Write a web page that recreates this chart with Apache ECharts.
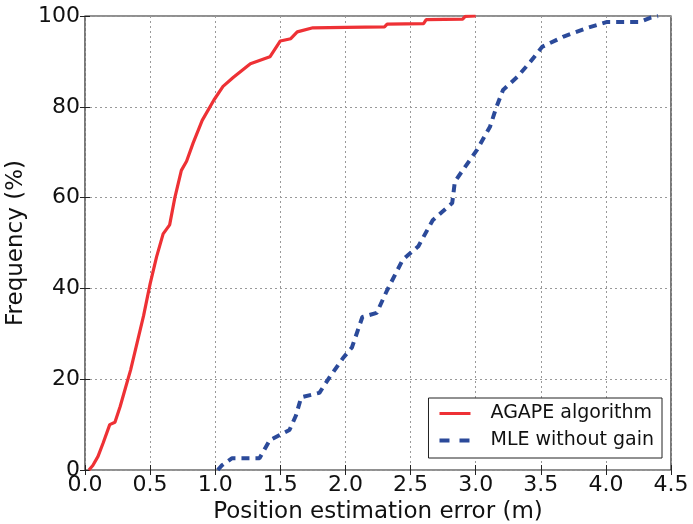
<!DOCTYPE html>
<html><head><meta charset="utf-8">
<script src="https://cdn.jsdelivr.net/npm/echarts@6/dist/echarts.min.js"></script>
<style>html,body{margin:0;padding:0;background:#fff}#c{width:693px;height:524px}</style>
</head><body><div id="c"></div>
<script>
var agapeX = [0.03,0.06,0.10,0.14,0.19,0.23,0.27,0.31,0.35,0.40,0.45,0.50,0.55,0.60,0.65,0.69,0.74,0.78,0.83,0.90,0.99,1.06,1.14,1.27,1.42,1.50,1.58,1.63,1.75,2.00,2.30,2.32,2.60,2.62,2.90,2.92,3.00];
var agapeY = [0,1,3,6,10,10.5,14,18,22,28,34,41,47,52,54,60,66,68,72,77,81.5,84.5,86.5,89.5,91,94.5,95,96.5,97.4,97.5,97.6,98.2,98.3,99.2,99.3,99.9,100];
var mleX = [1.02,1.05,1.13,1.34,1.42,1.57,1.62,1.66,1.80,1.88,1.98,2.05,2.13,2.24,2.32,2.44,2.56,2.67,2.82,2.84,2.90,3.01,3.11,3.16,3.21,3.32,3.42,3.51,3.67,3.85,4.01,4.26,4.34,4.40];
var mleY = [0,1,2.6,2.6,6.6,8.8,12,16,17,20.5,24.6,27,33.7,34.6,39.6,46.3,49.3,55,58.8,63.5,66,70.5,75.6,80,83.7,86.6,89.9,93.2,95.4,97.3,98.7,98.7,99.6,100];
var xTicks = ['0.0','0.5','1.0','1.5','2.0','2.5','3.0','3.5','4.0','4.5'];
var yTicks = ['0','20','40','60','80','100'];
var seriesNames = ['AGAPE algorithm','MLE without gain'];

function pairs(xs, ys){ return xs.map(function(x,i){return [x, ys[i]];}); }
var F = 'DejaVu Sans';
var RED = '#ee3135', BLUE = '#2b4a9a';
var chart = echarts.init(document.getElementById('c'));
var gridLine = {show:true, lineStyle:{color:'#999', type:[2,3], width:1}};
chart.setOption({
  animation:false,
  textStyle:{fontFamily:F},
  grid:{left:85, top:16, right:22, bottom:54, containLabel:false, outerBoundsMode:'none',
    show:true, borderColor:'#222', borderWidth:1.2, backgroundColor:'transparent'},
  xAxis:[{type:'value', min:0, max:4.5, interval:0.5,
    axisLine:{show:false}, axisTick:{inside:true, length:5, lineStyle:{color:'#222'}},
    splitLine:gridLine,
    axisLabel:{fontSize:22, color:'#111', margin:4, fontFamily:F, formatter:function(v){return xTicks[Math.round(v*2)];}},
    name:'Position estimation error (m)', nameLocation:'middle', nameGap:31,
    nameTextStyle:{fontSize:23, color:'#111', fontFamily:F}},
   {type:'value', position:'top', min:0, max:4.5, interval:0.5,
    axisLine:{show:false}, axisTick:{inside:true, length:5, lineStyle:{color:'#222'}},
    splitLine:{show:false}, axisLabel:{show:false}}],
  yAxis:[{type:'value', min:0, max:100, interval:20,
    axisLine:{show:false}, axisTick:{inside:true, length:5, lineStyle:{color:'#222'}},
    splitLine:gridLine,
    axisLabel:{fontSize:22, color:'#111', margin:5, fontFamily:F, formatter:function(v){return yTicks[v/20];}},
    name:'Frequency (%)', nameLocation:'middle', nameGap:53, nameRotate:90,
    nameTextStyle:{fontSize:23, color:'#111', fontFamily:F}},
   {type:'value', position:'right', min:0, max:100, interval:20,
    axisLine:{show:false}, axisTick:{inside:true, length:5, lineStyle:{color:'#222'}},
    splitLine:{show:false}, axisLabel:{show:false}}],
  legend:{right:31, bottom:66, orient:'vertical', backgroundColor:'#fff',
    borderColor:'#222', borderWidth:1, padding:[6,8,8,11], itemGap:8,
    itemWidth:31, itemHeight:19,
    itemStyle:{borderWidth:0},
    textStyle:{fontSize:19, color:'#111', fontFamily:F, padding:[0,0,0,15]},
    data:[
      {name:seriesNames[0], icon:'path://M0,0 M31,19 M0,8h31v3h-31z', itemStyle:{color:RED}},
      {name:seriesNames[1], icon:'path://M0,0 M31,19 M0,7.5h10v4h-10z M20,7.5h10v4h-10z', itemStyle:{color:BLUE}}
    ]},
  series:[
    {name:seriesNames[0], type:'line', data:pairs(agapeX, agapeY), showSymbol:false, symbol:'none',
     lineStyle:{color:RED, width:3.2}, itemStyle:{color:RED}, z:3},
    {name:seriesNames[1], type:'line', data:pairs(mleX, mleY), showSymbol:false, symbol:'none',
     lineStyle:{color:BLUE, width:4, type:[8,6]}, itemStyle:{color:BLUE}, z:3}
  ]
});
</script></body></html>
